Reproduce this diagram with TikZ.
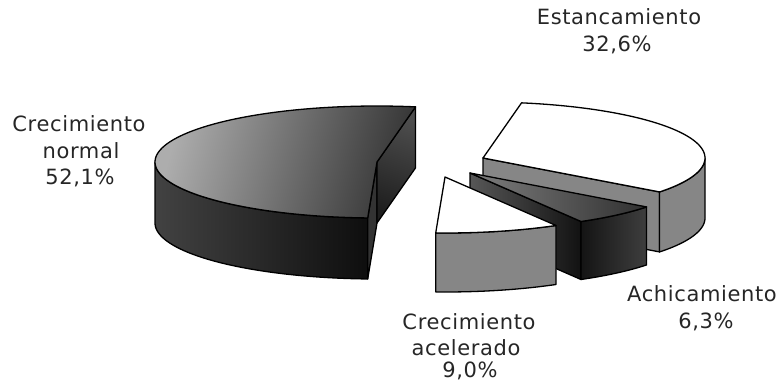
\documentclass[tikz,border=0pt]{standalone}
\usepackage{fontspec}
\newfontfamily\labfont[LetterSpace=3]{DejaVu Sans}
\definecolor{nTopL}{HTML}{ADADAD}
\definecolor{nTopR}{HTML}{353535}
\definecolor{nSideL}{HTML}{424242}
\definecolor{nSideR}{HTML}{0E0E0E}
\definecolor{nRadT}{HTML}{4E4E4E}
\definecolor{nRadB}{HTML}{1E1E1E}
\definecolor{midgrey}{HTML}{868686}
\definecolor{aTopL}{HTML}{7E7E7E}
\definecolor{aTopM}{HTML}{808080}
\definecolor{aTopR}{HTML}{303030}
\definecolor{aRadL}{HTML}{575757}
\definecolor{aRadR}{HTML}{121212}
\definecolor{aSideL}{HTML}{141414}
\definecolor{aSideR}{HTML}{3E3E3E}
\tikzset{
  edge/.style={draw=black, line width=1.3pt, line join=round},
  lab/.style={font=\labfont\fontsize{21}{26.5}\selectfont, anchor=base, inner sep=0pt, text=black!85},
}
\begin{document}
\begin{tikzpicture}[x=1pt,y=-1pt]
\useasboundingbox (0,0) rectangle (778,382);
% ---------- Crecimiento normal (apex 377,162; h=61) ----------
\shadedraw[edge, left color=nSideL, right color=nSideR]
  plot[domain=92.4:180,samples=60] ({377+222*cos(\x)},{162+56*sin(\x)})
  -- plot[domain=180:92.4,samples=60] ({377+222*cos(\x)},{223+56*sin(\x)}) -- cycle;
\filldraw[edge, fill=black!80]
  (377,162) -- ({377+222*cos(92.4)},{162+56*sin(92.4)})
  -- ({377+222*cos(92.4)},{223+56*sin(92.4)}) -- (377,223) -- cycle;
\shadedraw[edge, top color=nRadT, bottom color=nRadB, shading angle=-20]
  (377,162) -- ({377+222*cos(280)},{162+56*sin(280)})
  -- ({377+222*cos(280)},{223+56*sin(280)}) -- (377,223) -- cycle;
\shadedraw[edge, top color=nTopL, bottom color=nTopR, shading angle=75]
  (377,162) -- plot[domain=280:92.4,samples=120] ({377+222*cos(\x)},{162+56*sin(\x)}) -- cycle;
% ---------- Estancamiento (apex 483,158; h=60) ----------
\filldraw[edge, fill=midgrey]
  (483,158) -- ({483+222*cos(37.3)},{158+56*sin(37.3)})
  -- ({483+222*cos(37.3)},{218+56*sin(37.3)}) -- (483,218) -- cycle;
\filldraw[edge, fill=midgrey]
  plot[domain=0:37.3,samples=30] ({483+222*cos(\x)},{158+56*sin(\x)})
  -- plot[domain=37.3:0,samples=30] ({483+222*cos(\x)},{218+56*sin(\x)}) -- cycle;
\filldraw[edge, fill=white]
  (483,158) -- plot[domain=-80:37.3,samples=80] ({483+222*cos(\x)},{158+56*sin(\x)}) -- cycle;
% ---------- Achicamiento (apex 470,173; h=58) ----------
\shadedraw[edge, left color=aRadL, right color=aRadR]
  (470,173) -- ({470+222*cos(60)},{173+56*sin(60)})
  -- ({470+222*cos(60)},{231+56*sin(60)}) -- (470,231) -- cycle;
\shadedraw[edge, left color=aSideL, right color=aSideR]
  plot[domain=37.3:60,samples=30] ({470+222*cos(\x)},{173+56*sin(\x)})
  -- plot[domain=60:37.3,samples=30] ({470+222*cos(\x)},{231+56*sin(\x)}) -- cycle;
\shadedraw[edge, left color=aTopL, middle color=aTopM, right color=aTopR]
  (470,173) -- plot[domain=37.3:60,samples=30] ({470+222*cos(\x)},{173+56*sin(\x)}) -- cycle;
% ---------- Crecimiento acelerado (apex 445,177; h=59) ----------
\filldraw[edge, fill=midgrey]
  plot[domain=60:92.4,samples=30] ({445+222*cos(\x)},{177+56*sin(\x)})
  -- plot[domain=92.4:60,samples=30] ({445+222*cos(\x)},{236+56*sin(\x)}) -- cycle;
\filldraw[edge, fill=white]
  (445,177) -- plot[domain=60:92.4,samples=30] ({445+222*cos(\x)},{177+56*sin(\x)}) -- cycle;
% ---------- Labels ----------
\node[lab] (estA) at (619,25) {Estancamiento};
\node[lab] (estB) at (617,52) {32,6\%};
\node[lab] (norA) at (79,132) {Crecimiento};
\node[lab] (norB) at (81,158.5) {normal};
\node[lab] (norC) at (80,185) {52,1\%};
\node[lab] (achA) at (702,301.5) {Achicamiento};
\node[lab] (achB) at (706,328.5) {6,3\%};
\node[lab] (aceA) at (469,329) {Crecimiento};
\node[lab] (aceB) at (466,355) {acelerado};
\node[lab] (aceC) at (470,377.5) {9,0\%};
\end{tikzpicture}
\end{document}
